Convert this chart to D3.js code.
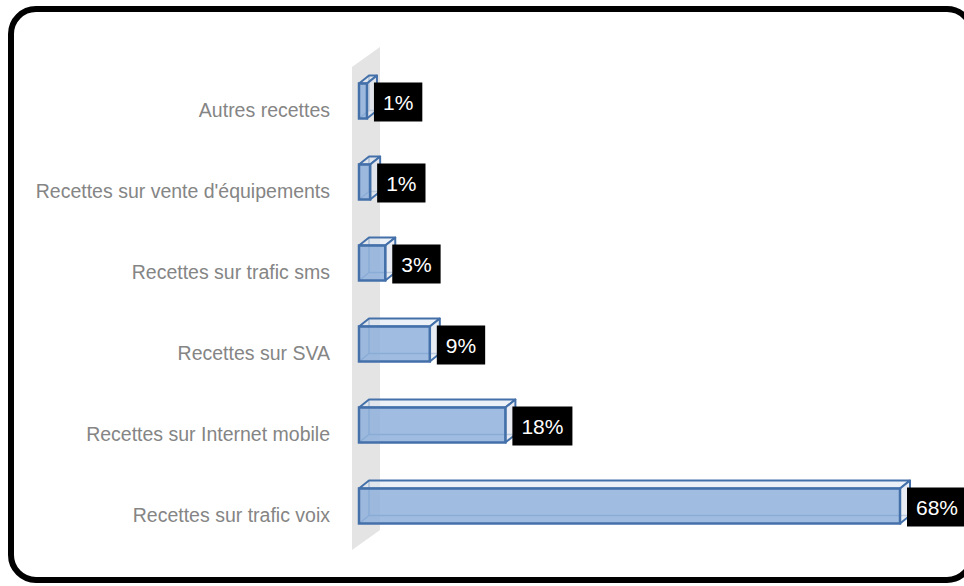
<!DOCTYPE html>
<html>
<head>
<meta charset="utf-8">
<script src="https://cdn.jsdelivr.net/npm/d3@7"></script>
<style>
  body { margin: 0; background: #fff; }
  svg { display: block; font-family: "Liberation Sans", Arial, sans-serif; }
</style>
</head>
<body>
<svg class="chart"></svg>
<script>
// chart data
const categories = [
  'Autres recettes',
  "Recettes sur vente d'équipements",
  'Recettes sur trafic sms',
  'Recettes sur SVA',
  'Recettes sur Internet mobile',
  'Recettes sur trafic voix',
]
const values = [1.0, 1.4, 3.3, 8.9, 18.4, 68.0]
const valueLabels = ['1%', '1%', '3%', '9%', '18%', '68%']

const dimen = { width: 964, height: 586 }
const depth = { dx: 10, dy: -8 }
const barH = 35

const svg = d3.select('.chart')
    .attr('width', dimen.width)
    .attr('height', dimen.height)

// x: percent -> pixels, y: category -> center of the front face
const xScale = d3.scaleLinear()
  .domain([0, 68])
  .range([359, 900])
const yScale = d3.scalePoint()
  .domain(categories)
  .range([60.5, 546.5])
  .padding(0.5)

// Frame
// =====
svg.append('rect')
    .attr('x', 11).attr('y', 9)
    .attr('width', 961).attr('height', 571)
    .attr('rx', 25).attr('ry', 25)
    .attr('fill', 'none')
    .attr('stroke', '#000')
    .attr('stroke-width', 6)

// Wall (3d back plane)
// ====================
const x0 = xScale(0)
svg.append('path')
    .attr('d', `M${x0 - 7},67 L${x0 + 21},47 L${x0 + 21},530 L${x0 - 7},550 Z`)
    .attr('fill', '#e4e4e4')

// Category labels
// ===============
svg.append('g')
  .selectAll('text')
    .data(categories)
  .enter().append('text')
    .attr('x', 330)
    .attr('y', d => yScale(d) + 16)
    .attr('text-anchor', 'end')
    .attr('font-size', 19.5)
    .attr('fill', '#858585')
    .text(d => d)

// Bars
// ====
const rows = categories.map((c, i) => ({ cat: c, v: values[i], label: valueLabels[i] }))
const stroke = '#4470aa'

const bar = svg.append('g')
  .selectAll('g')
    .data(rows)
  .enter().append('g')

const geo = d => {
  const xa = xScale(0), xb = xScale(d.v)
  const ya = yScale(d.cat) - barH / 2, yb = yScale(d.cat) + barH / 2
  return { xa, xb, ya, yb, dx: depth.dx, dy: depth.dy }
}

// hidden back edges (seen through the front face)
bar.append('path')
    .attr('d', d => {
      const g = geo(d)
      return `M${g.xa + g.dx},${g.ya + g.dy} L${g.xa + g.dx},${g.yb + g.dy} L${g.xb + g.dx},${g.yb + g.dy}` +
        ` M${g.xa},${g.yb} L${g.xa + g.dx},${g.yb + g.dy}`
    })
    .attr('fill', 'none')
    .attr('stroke', stroke)
    .attr('stroke-width', 1.5)
    .attr('opacity', 0.8)

// top face
bar.append('path')
    .attr('d', d => {
      const g = geo(d)
      return `M${g.xa},${g.ya} L${g.xa + g.dx},${g.ya + g.dy} L${g.xb + g.dx},${g.ya + g.dy} L${g.xb},${g.ya} Z`
    })
    .attr('fill', '#dfe7f2')
    .attr('fill-opacity', 0.6)
    .attr('stroke', stroke)
    .attr('stroke-width', 2)
    .attr('stroke-linejoin', 'round')

// right face
bar.append('path')
    .attr('d', d => {
      const g = geo(d)
      return `M${g.xb},${g.ya} L${g.xb + g.dx},${g.ya + g.dy} L${g.xb + g.dx},${g.yb + g.dy} L${g.xb},${g.yb} Z`
    })
    .attr('fill', '#dfe5ee')
    .attr('fill-opacity', 0.7)
    .attr('stroke', stroke)
    .attr('stroke-width', 2)
    .attr('stroke-linejoin', 'round')

// front face
bar.append('rect')
    .attr('x', d => geo(d).xa)
    .attr('y', d => geo(d).ya)
    .attr('width', d => geo(d).xb - geo(d).xa)
    .attr('height', barH)
    .attr('fill', '#8fb1dc')
    .attr('fill-opacity', 0.85)
    .attr('stroke', stroke)
    .attr('stroke-width', 2.5)

// Value labels
// ============
const lab = bar.append('g')
    .attr('transform', d => `translate(${xScale(d.v) + 7}, ${yScale(d.cat) + 1})`)

lab.append('text')
    .attr('class', 'val')
    .attr('y', 7.5)
    .attr('font-size', 21)
    .attr('fill', '#fff')
    .text(d => d.label)
    .each(function() {
      const w = this.getComputedTextLength()
      d3.select(this).attr('x', 9)
      d3.select(this.parentNode).insert('rect', 'text')
          .attr('x', 0).attr('y', -19.5)
          .attr('width', w + 18).attr('height', 39)
          .attr('fill', '#000')
    })
</script>
</body>
</html>
